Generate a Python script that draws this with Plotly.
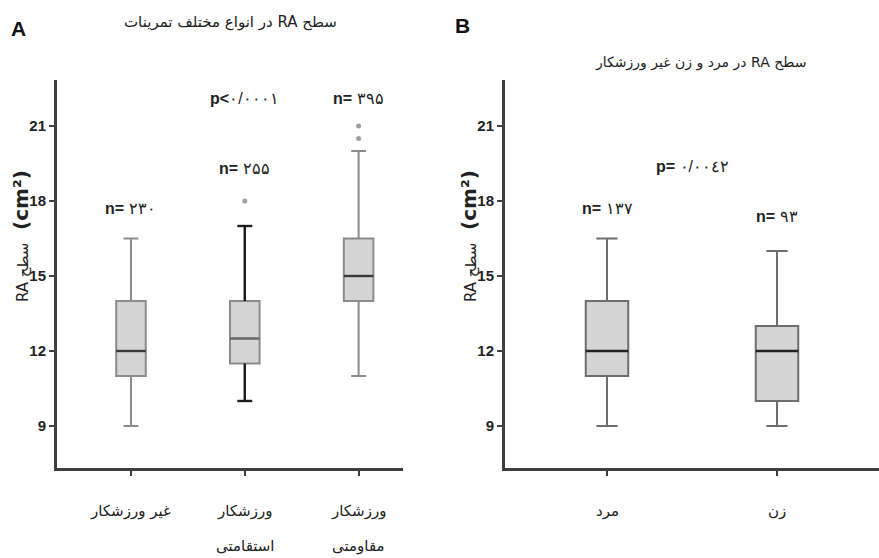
import plotly.graph_objects as go

# ---------------- data ----------------
cats_a = ["غیر ورزشکار", "ورزشکار<br>استقامتی", "ورزشکار<br>مقاومتی"]
low_a = [9, 10, 11]
q1_a = [11, 11.5, 14]
med_a = [12, 12.5, 15]
q3_a = [14, 14, 16.5]
high_a = [16.5, 17, 20]
out_x_a = [1, 2, 2]
out_y_a = [18, 20.5, 21]
n_a = ["۲۳۰", "۲۵۵", "۳۹۵"]
n_y_a = [17.7, 19.3, 22.1]
p_a = "۰/۰۰۰۱"

cats_b = ["مرد", "زن"]
low_b = [9, 9]
q1_b = [11, 10]
med_b = [12, 12]
q3_b = [14, 13]
high_b = [16.5, 16]
n_b = ["۱۳۷", "۹۳"]
n_y_b = [17.7, 17.4]
p_b = "۰/۰۰٤۲"

yticks = [9, 12, 15, 18, 21]
title_a = "\u202bسطح RA در انواع مختلف تمرینات\u202c"
title_b = "\u202bسطح RA در مرد و زن غیر ورزشکار\u202c"
ytitle = "<span style='font-size:15px'>RA سطح</span>  <b>(cm²)</b>"

# ---------------- style ----------------
axis_col = "#3f3f3f"
fill = "#d4d4d4"
fa = "Liberation Sans Narrow, Liberation Sans, Arial"
fp = "DejaVu Sans"
WW = 0.5

fig = go.Figure()

def add_boxes(xaxis, yaxis, low, q1, med, q3, high, bw, line_col, wh_col, med_col):
    for i in range(len(med)):
        fig.add_trace(go.Box(
            x=[i], q1=[q1[i]], median=[med[i]], q3=[q3[i]],
            lowerfence=[low[i]], upperfence=[high[i]],
            width=bw, whiskerwidth=WW,
            fillcolor=fill, line=dict(color=line_col, width=2),
            boxpoints=False, showlegend=False, hoverinfo="skip",
            xaxis=xaxis, yaxis=yaxis))
        if wh_col[i] is not None:
            c = bw * WW / 2
            fig.add_trace(go.Scatter(
                x=[i, i, None, i - c, i + c, None, i, i, None, i - c, i + c],
                y=[high[i], q3[i], None, high[i], high[i], None,
                   low[i], q1[i], None, low[i], low[i]],
                mode="lines", line=dict(color=wh_col[i], width=2.4),
                showlegend=False, hoverinfo="skip", xaxis=xaxis, yaxis=yaxis))
        fig.add_trace(go.Scatter(
            x=[i - bw / 2, i + bw / 2], y=[med[i], med[i]],
            mode="lines", line=dict(color=med_col[i], width=2.4),
            showlegend=False, hoverinfo="skip", xaxis=xaxis, yaxis=yaxis))

add_boxes("x", "y", low_a, q1_a, med_a, q3_a, high_a, 0.26, "#8c8c8c",
          [None, "#1e1e1e", None], ["#3a3a3a", "#6a6a6a", "#3a3a3a"])
add_boxes("x2", "y2", low_b, q1_b, med_b, q3_b, high_b, 0.25, "#6e6e6e",
          [None, None], ["#222", "#222"])

fig.add_trace(go.Scatter(x=out_x_a, y=out_y_a, mode="markers",
                         marker=dict(color="#a0a0a0", size=5),
                         showlegend=False, hoverinfo="skip", xaxis="x", yaxis="y"))

yrange = [7.32, 22.84]
ydom = [1 - 468 / 558, 1 - 80 / 558]

common_y = dict(range=yrange, domain=ydom, tickvals=yticks, showline=True,
                linecolor=axis_col, linewidth=3, ticks="outside", ticklen=5,
                tickwidth=1.5, tickcolor=axis_col, showgrid=False, zeroline=False,
                automargin=False,
                tickfont=dict(family=fa, size=15, color="#222", weight="bold"))
common_x = dict(showline=True, linecolor=axis_col, linewidth=3, ticks="outside",
                ticklen=5, tickwidth=1.5, tickcolor=axis_col, showgrid=False,
                zeroline=False, showticklabels=False, automargin=False)

fig.update_layout(
    width=879, height=558, margin=dict(l=0, r=0, t=0, b=0),
    paper_bgcolor="white", plot_bgcolor="white", boxmode="overlay",
    xaxis=dict(common_x, domain=[57 / 879, 403 / 879], range=[-0.65, 2.39],
               tickvals=list(range(len(cats_a))), anchor="y"),
    yaxis=dict(common_y, anchor="x"),
    xaxis2=dict(common_x, domain=[505 / 879, 1.0], range=[-0.6, 1.6],
                tickvals=list(range(len(cats_b))), anchor="y2"),
    yaxis2=dict(common_y, anchor="x2"),
)

ann = []
cf = dict(family=fp, size=15, color="#222")
for xr, cats in (("x", cats_a), ("x2", cats_b)):
    for i, c in enumerate(cats):
        for j, line in enumerate(c.split("<br>")):
            ann.append(dict(x=i, y=ydom[0], xref=xr, yref="paper", text=line,
                            showarrow=False, xanchor="center", yanchor="top",
                            yshift=-32 - 35 * j, font=cf))
nf = dict(family=fa, size=16, color="#222")
for i, t in enumerate(n_a):
    ann.append(dict(x=i, y=n_y_a[i], xref="x", yref="y", text="<b>n=</b> " + t,
                    showarrow=False, xanchor="center", font=nf))
ann.append(dict(x=1, y=22.1, xref="x", yref="y", text="<b>p<</b>" + p_a,
                showarrow=False, xanchor="center", font=nf))
for i, t in enumerate(n_b):
    ann.append(dict(x=i, y=n_y_b[i], xref="x2", yref="y2", text="<b>n=</b> " + t,
                    showarrow=False, xanchor="center", font=nf))
ann.append(dict(x=0.5, y=19.4, xref="x2", yref="y2", text="<b>p=</b> " + p_b,
                showarrow=False, xanchor="center", font=nf))

# y-axis titles
for xp in (21 / 879, 469 / 879):
    ann.append(dict(x=xp, y=1 - 236 / 558, xref="paper", yref="paper", text=ytitle,
                    textangle=-90, showarrow=False, xanchor="center", yanchor="middle",
                    font=dict(family=fp, size=20, color="#222")))

ann.append(dict(x=230 / 879, y=1 - 22 / 558, xref="paper", yref="paper", text=title_a,
                showarrow=False, xanchor="center", yanchor="middle", font=cf))
ann.append(dict(x=700 / 879, y=1 - 62 / 558, xref="paper", yref="paper", text=title_b,
                showarrow=False, xanchor="center", yanchor="middle",
                font=dict(family=fp, size=14, color="#222")))
ann.append(dict(x=18 / 879, y=1 - 28 / 558, xref="paper", yref="paper", text="<b>A</b>",
                showarrow=False, xanchor="center", yanchor="middle",
                font=dict(family="Liberation Sans", size=21, color="#111")))
ann.append(dict(x=462 / 879, y=1 - 25 / 558, xref="paper", yref="paper", text="<b>B</b>",
                showarrow=False, xanchor="center", yanchor="middle",
                font=dict(family="Liberation Sans", size=21, color="#111")))

fig.update_layout(annotations=ann)
fig.write_html("out.html", config={"displayModeBar": False},
               post_script="document.body.style.margin='0';")
